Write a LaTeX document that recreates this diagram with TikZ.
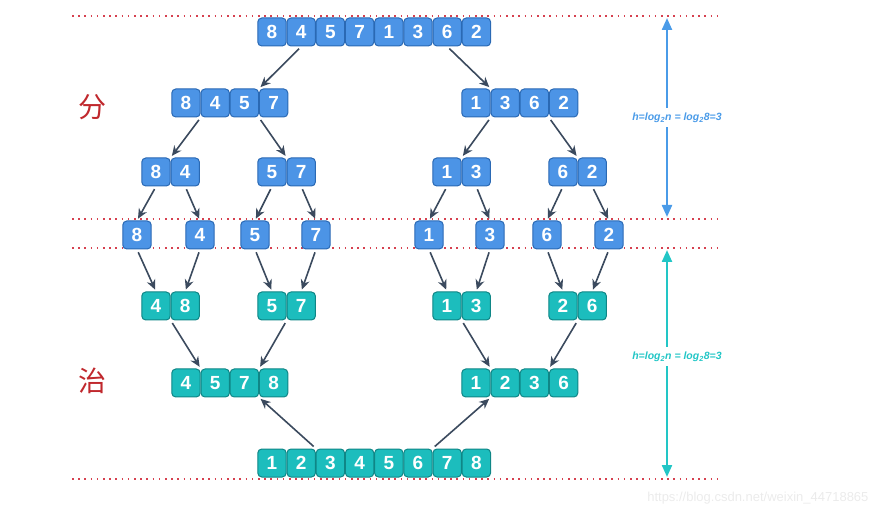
\documentclass[tikz,border=0pt]{standalone}
\usepackage{fontspec}
\setmainfont{Liberation Sans}
\newfontfamily\cjk{Noto Sans CJK SC}
\usetikzlibrary{arrows.meta}
\definecolor{cellblue}{HTML}{4C94E6}
\definecolor{edgeblue}{HTML}{2A69B4}
\definecolor{cellteal}{HTML}{1CBDBD}
\definecolor{edgeteal}{HTML}{0F8686}
\definecolor{linkgray}{HTML}{3B4A5E}
\definecolor{dotred}{HTML}{D6404F}
\definecolor{hanred}{HTML}{C0282D}
\definecolor{hblue}{HTML}{4A9BE8}
\definecolor{hteal}{HTML}{22C6C6}
\tikzset{
	cell/.style={draw, rounded corners=4pt, line width=1pt, minimum width=28.4pt, minimum height=28pt,
		inner sep=0pt, text=white, font=\fontsize{19}{19}\selectfont\bfseries},
	cellb/.style={cell, fill=cellblue, draw=edgeblue},
	cellt/.style={cell, fill=cellteal, draw=edgeteal},
	link/.style={draw=linkgray, line width=1.6pt, -{Stealth[length=10pt,width=9pt]}, shorten <=3pt, shorten >=2pt},
	level/.style={dotred, line width=1.6pt, dash pattern=on 1.6pt off 4.6pt},
	harrow/.style={line width=2.2pt, -{Triangle[length=12pt,width=10pt]}},
	hlabel/.style={font=\fontsize{10.5}{10.5}\selectfont\bfseries\itshape, inner sep=1pt},
}
\begin{document}
\begin{tikzpicture}[x=1pt, y=-1pt]
	\useasboundingbox (0,0) rectangle (881,518);
	% level lines
	\draw[level] (72,16) -- (722,16);
	\draw[level] (72,219) -- (722,219);
	\draw[level] (72,248) -- (722,248);
	\draw[level] (72,479) -- (722,479);
	% split half
	\foreach \d [count=\i] in {8,4,5,7,1,3,6,2}
		\node[cellb] (s\i) at ({272+29.2*(\i-1)},32) {\d};
	\foreach \d [count=\i] in {8,4,5,7}
		\node[cellb] (l\i) at ({186+29.2*(\i-1)},103) {\d};
	\foreach \d [count=\i] in {1,3,6,2}
		\node[cellb] (r\i) at ({476+29.2*(\i-1)},103) {\d};
	\foreach \d [count=\i] in {8,4}
		\node[cellb] (ll\i) at ({156+29.2*(\i-1)},172) {\d};
	\foreach \d [count=\i] in {5,7}
		\node[cellb] (lr\i) at ({272+29.2*(\i-1)},172) {\d};
	\foreach \d [count=\i] in {1,3}
		\node[cellb] (rl\i) at ({447+29.2*(\i-1)},172) {\d};
	\foreach \d [count=\i] in {6,2}
		\node[cellb] (rr\i) at ({563+29.2*(\i-1)},172) {\d};
	\foreach \d/\x [count=\i] in {8/137,4/200,5/255,7/316,1/429,3/490,6/547,2/609}
		\node[cellb] (p\i) at (\x,235) {\d};
	% merge half
	\foreach \d [count=\i] in {4,8}
		\node[cellt] (qa\i) at ({156+29.2*(\i-1)},306) {\d};
	\foreach \d [count=\i] in {5,7}
		\node[cellt] (qb\i) at ({272+29.2*(\i-1)},306) {\d};
	\foreach \d [count=\i] in {1,3}
		\node[cellt] (qc\i) at ({447+29.2*(\i-1)},306) {\d};
	\foreach \d [count=\i] in {2,6}
		\node[cellt] (qd\i) at ({563+29.2*(\i-1)},306) {\d};
	\foreach \d [count=\i] in {4,5,7,8}
		\node[cellt] (ml\i) at ({186+29.2*(\i-1)},383) {\d};
	\foreach \d [count=\i] in {1,2,3,6}
		\node[cellt] (mr\i) at ({476+29.2*(\i-1)},383) {\d};
	\foreach \d [count=\i] in {1,2,3,4,5,6,7,8}
		\node[cellt] (f\i) at ({272+29.2*(\i-1)},463) {\d};
	% connectors
	\draw[link] (s2.south) -- (l3.north east);
	\draw[link] (s7.south) -- (r1.north east);
	\draw[link] (l1.south east) -- (ll1.north east);
	\draw[link] (l4.south west) -- (lr1.north east);
	\draw[link] (r1.south east) -- (rl1.north east);
	\draw[link] (r4.south west) -- (rr1.north east);
	\draw[link] (ll1.south) -- (p1.north);
	\draw[link] (ll2.south) -- (p2.north);
	\draw[link] (lr1.south) -- (p3.north);
	\draw[link] (lr2.south) -- (p4.north);
	\draw[link] (rl1.south) -- (p5.north);
	\draw[link] (rl2.south) -- (p6.north);
	\draw[link] (rr1.south) -- (p7.north);
	\draw[link] (rr2.south) -- (p8.north);
	\draw[link] (p1.south) -- (qa1.north);
	\draw[link] (p2.south) -- (qa2.north);
	\draw[link] (p3.south) -- (qb1.north);
	\draw[link] (p4.south) -- (qb2.north);
	\draw[link] (p5.south) -- (qc1.north);
	\draw[link] (p6.south) -- (qc2.north);
	\draw[link] (p7.south) -- (qd1.north);
	\draw[link] (p8.south) -- (qd2.north);
	\draw[link] (qa1.south east) -- (ml1.north east);
	\draw[link] (qb1.south east) -- (ml3.north east);
	\draw[link] (qc1.south east) -- (mr1.north east);
	\draw[link] (qd1.south east) -- (mr3.north east);
	\draw[link] (f2.north east) -- (ml3.south east);
	\draw[link] (f7.north west) -- (mr1.south east);
	% side labels
	\node[hanred, font=\cjk\fontsize{28}{28}\selectfont] (fen) at (92,107) {分};
	\node[hanred, font=\cjk\fontsize{28}{28}\selectfont] (zhi) at (92,381) {治};
	\coordinate (ht1) at (667,18);
	\coordinate (hb1) at (667,217);
	\node[hlabel, hblue] (h1) at (677,118) {h=log\textsubscript{2}n = log\textsubscript{2}8=3};
	\draw[harrow, hblue] ([yshift=4pt]h1.north -| ht1) -- (ht1);
	\draw[harrow, hblue] ([yshift=-3pt]h1.south -| hb1) -- (hb1);
	\coordinate (ht2) at (667,250);
	\coordinate (hb2) at (667,477);
	\node[hlabel, hteal] (h2) at (677,357) {h=log\textsubscript{2}n = log\textsubscript{2}8=3};
	\draw[harrow, hteal] ([yshift=4pt]h2.north -| ht2) -- (ht2);
	\draw[harrow, hteal] ([yshift=-3pt]h2.south -| hb2) -- (hb2);
	% watermark
	\node[text=black!8, font=\fontsize{13}{13}\selectfont, anchor=east] (mark) at (872,498) {https://blog.csdn.net/weixin\_44718865};
\end{tikzpicture}
\end{document}
